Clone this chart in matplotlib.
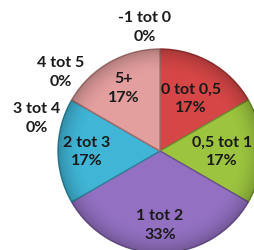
import numpy as np
import matplotlib.pyplot as plt
from matplotlib.colors import to_rgb
from matplotlib.patches import Circle

categories = ['-1 tot 0', '0 tot 0,5', '0,5 tot 1', '1 tot 2', '2 tot 3', '3 tot 4', '4 tot 5', '5+']
counts = [0, 1, 1, 2, 1, 0, 0, 1]
colors = ['#4F81BD', '#D64646', '#9CC43F', '#9370C2', '#40B5D6', '#F79646', '#4F81BD', '#E39E9E']

# label placement: zero slices sit outside the pie (data units),
# the others sit on the mid angle of their wedge at some fraction of the radius
zero_label_pos = {'-1 tot 0': (-0.15, 1.22), '4 tot 5': (-0.97, 0.78), '3 tot 4': (-1.21, 0.33)}
label_radius = {'0 tot 0,5': 0.6, '0,5 tot 1': 0.61}

fig = plt.figure(figsize=(2.54, 2.51), dpi=100)
ax = fig.add_axes([0, 0, 1, 1])

def darker(c, f=0.72):
    r, g, b = to_rgb(c)
    return (r * f, g * f, b * f)

wedges, _ = ax.pie(counts, colors=colors, startangle=90, counterclock=False,
                   wedgeprops=dict(linewidth=1.0))
for w, c in zip(wedges, colors):
    w.set_edgecolor(darker(c))

# soft rim shading, like the bevel in the original
yy, xx = np.mgrid[-1:1:300j, -1:1:300j]
rr = np.sqrt(xx ** 2 + yy ** 2)
shade = np.clip((rr - 0.75) / 0.25, 0, 1) ** 2 * 0.22
img = np.zeros((300, 300, 4))
img[..., 3] = shade
im = ax.imshow(img, extent=(-1, 1, -1, 1), zorder=3)
im.set_clip_path(Circle((0, 0), 1, transform=ax.transData))

total = sum(counts)
for w, cat, n in zip(wedges, categories, counts):
    pct = f'{round(100 * n / total)}%'
    if n == 0:
        x, y = zero_label_pos[cat]
    else:
        ang = np.deg2rad((w.theta1 + w.theta2) / 2)
        r = label_radius.get(cat, 0.72)
        x, y = r * np.cos(ang), r * np.sin(ang)
    ax.text(x, y, f'{cat}\n{pct}', ha='center', va='center', fontsize=11.5,
            fontweight='bold', family='Lato', color='#1a1a1a', linespacing=1.4,
            zorder=5)

ax.set_xlim(-160 / 102, 94 / 102)
ax.set_ylim(-99 / 102, 152 / 102)
ax.set_aspect('auto')
ax.axis('off')

plt.savefig('out.png', dpi=100)
